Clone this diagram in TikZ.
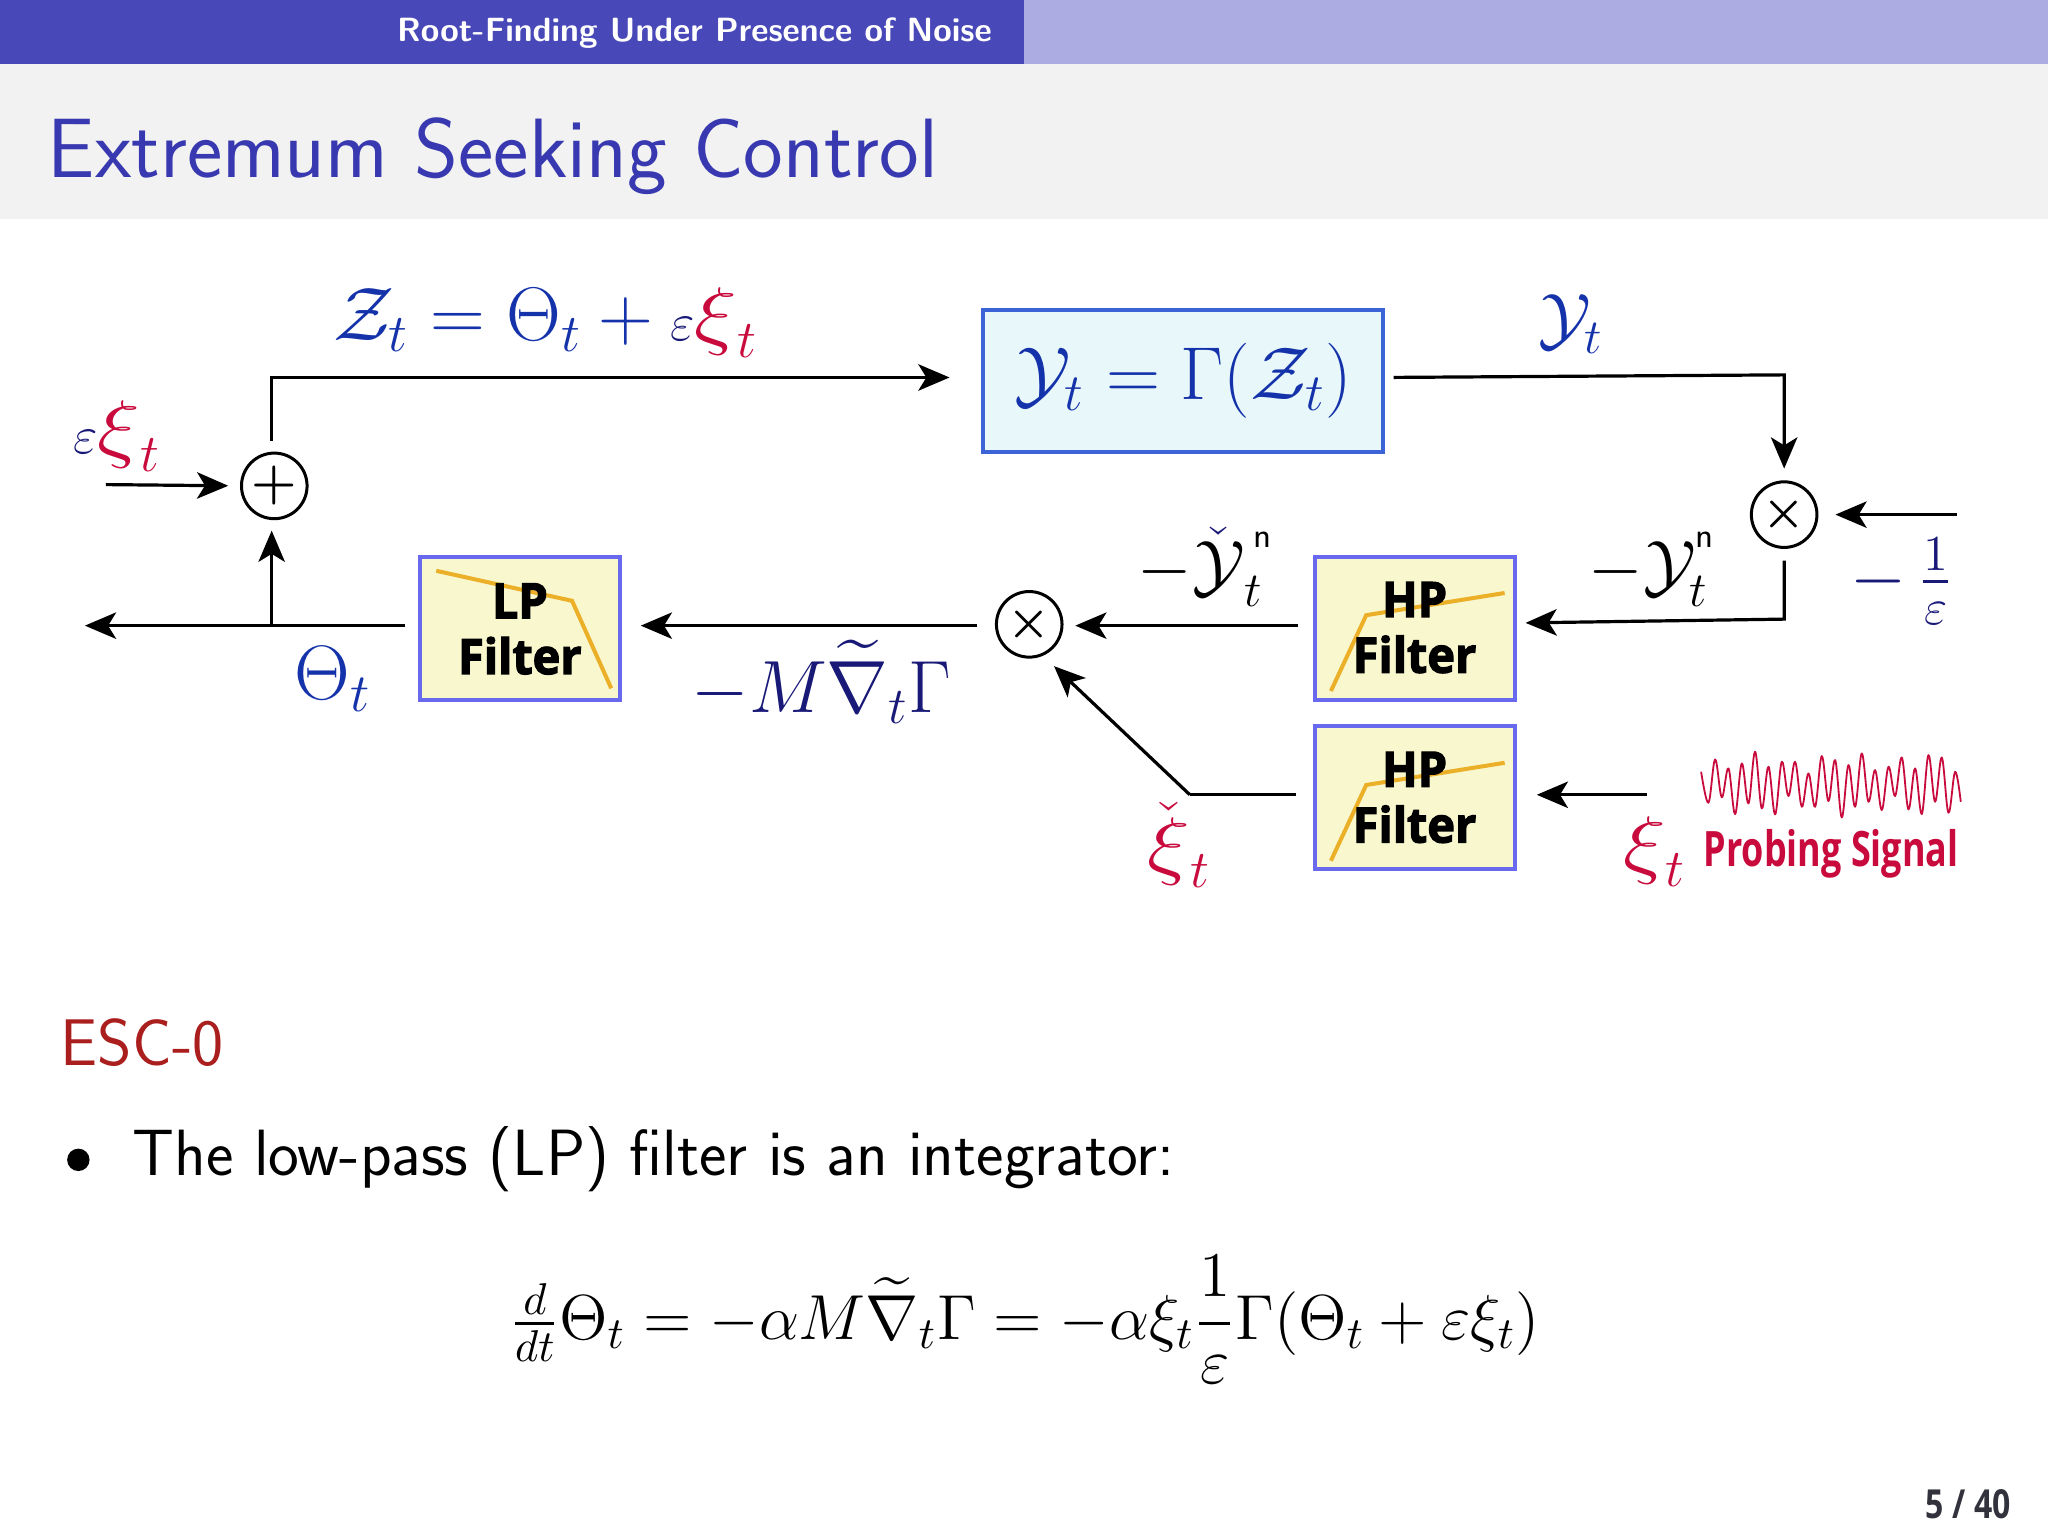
\RequirePackage{fix-cm}
\documentclass[tikz,border=0pt]{standalone}
\usepackage{amsmath,amssymb}
\usepackage[no-math]{fontspec}
\newfontfamily\heavyfontbase[FakeStretch=0.96,FakeBold=2.5]{Open Sans}
\newfontfamily\probefontbase[FakeStretch=0.737]{Open Sans}
\newfontfamily\pagefontbase[FakeStretch=0.8]{Open Sans}
\newcommand{\heavyfont}{\heavyfontbase\bfseries}
\newcommand{\probefont}{\probefontbase\bfseries}
\usetikzlibrary{arrows.meta,calc}
\definecolor{barDark}{RGB}{72,72,184}
\definecolor{barLight}{RGB}{172,172,226}
\definecolor{titleBand}{RGB}{242,242,242}
\definecolor{titleBlue}{RGB}{56,56,176}
\definecolor{sysFill}{RGB}{232,247,250}
\definecolor{sysEdge}{RGB}{60,100,215}
\definecolor{filtFill}{RGB}{248,247,205}
\definecolor{filtEdge}{RGB}{105,105,240}
\definecolor{orangeCurve}{RGB}{235,175,40}
\definecolor{mathBlue}{RGB}{20,50,170}
\definecolor{navy}{RGB}{25,25,120}
\definecolor{probeRed}{RGB}{200,10,60}
\definecolor{escRed}{RGB}{170,30,30}
\definecolor{pageGrey}{RGB}{50,50,60}
\newcommand{\fsz}[1]{\fontsize{#1}{#1}\selectfont}
\newcommand{\smalleps}{{\scriptstyle\textcolor{navy}{\varepsilon}}}
\newcommand{\bigxi}{\scalebox{1.18}[1.0]{$\xi$}}
\newcommand{\supn}{\raisebox{4pt}{\fsz{8.5}\sffamily n}}
\tikzset{
  x=0.32653pt,y=-0.32653pt,
  conn/.style={line width=0.8pt,line join=miter,-{Stealth[length=7.8pt,width=6.6pt,inset=2pt]}},
  plainline/.style={line width=0.8pt},
  sa/.style={shorten <=#1*0.32653pt},
  sb/.style={shorten >=#1*0.32653pt},
  junction/.style={circle,draw=black,line width=0.75pt,minimum size=16.4pt,inner sep=0pt,font=\fsz{13}},
  filterbox/.style={draw=filtEdge,fill=filtFill,line width=1pt,minimum width=50pt,minimum height=35.7pt,inner sep=0pt},
  filtertext/.style={font=\heavyfont\fsz{12.2},align=center,text=black,inner sep=0pt},
  curve/.style={draw=orangeCurve,line width=1pt},
  lbl/.style={inner sep=0pt,font=\fsz{17.5}},
}
\begin{document}
\begin{tikzpicture}
\useasboundingbox (0,0) rectangle (1568,1176);
\fill[white] (0,0) rectangle (1568,1176);
\fill[barDark] (0,0) rectangle (784,49);
\fill[barLight] (784,0) rectangle (1568,49);
\fill[titleBand] (0,49) rectangle (1568,168);
\node[anchor=east,inner sep=0pt,text=white,font=\sffamily\bfseries\fsz{8.4}] (hdr) at (760,25) {Root-Finding Under Presence of Noise};
\node[anchor=base west,inner sep=0pt,text=titleBlue,font=\sffamily\fsz{21.05}] (ttl) at (36,136) {Extremum Seeking Control};

% blocks
\node[draw=sysEdge,fill=sysFill,line width=1pt,minimum width=100pt,minimum height=35.6pt,inner sep=0pt,text=mathBlue,font=\fsz{18.75}] (sys) at (906,291.5)
  {$\mathcal{Y}_t=\Gamma(\mathcal{Z}_t)$};
\node[junction] (plus) at (210,372) {$\boldsymbol{+}$};
\node[junction,font=\fsz{12}] (mulA) at (788,478) {$\boldsymbol{\times}$};
\node[junction,font=\fsz{12}] (mulB) at (1366,394) {$\boldsymbol{\times}$};
\node[filterbox] (lp) at (398.5,481) {};
\node[filterbox] (hpA) at (1083.5,481) {};
\node[filterbox] (hpB) at (1083.5,610.5) {};
\draw[curve] (334,437) -- (438,460) -- (468,527);
\draw[curve] (1019,529) -- (1046,471) -- (1152,454);
\draw[curve] (1019,659) -- (1046,601) -- (1152,584);
\node[filtertext] (lpa) at (398,460) {LP};
\node[filtertext] (lpb) at (398,502) {Filter};
\node[filtertext] (hpaa) at (1083,459) {HP};
\node[filtertext] (hpab) at (1083,501) {Filter};
\node[filtertext] (hpba) at (1083,589) {HP};
\node[filtertext] (hpbb) at (1083,631) {Filter};

% free ends and corners
\coordinate (sysin) at (753,289);
\coordinate (sysout) at (1059,289);
\coordinate (epsin) at (81,371);
\coordinate (outleft) at (65,479);
\coordinate (tap) at (208,479);
\coordinate (oneover) at (1498,394);
\coordinate (probe) at (1261,608.5);
\coordinate (kink) at (911,608.5);
\coordinate (cornerA) at (1366,287);
\coordinate (cornerB) at (1366,474);
\coordinate (hpin) at (1160,477);
\coordinate (mulin) at ($(mulA)+(19,32)$);

% connectors
\draw[conn,sa=8,sb=26] (plus.north -| tap) -- (sysin -| tap) -- (sysin);
\draw[conn,sb=9] (epsin) -- (plus.west);
\draw[conn,sb=8] (tap) -- (plus.south -| tap);
\draw[conn,sa=10] (lp.west |- tap) -- (outleft);
\draw[conn,sa=14,sb=14] (mulA.west |- tap) -- (lp.east |- tap);
\draw[conn,sa=12,sb=9] (hpA.west |- tap) -- (mulA.east |- tap);
\draw[conn,sa=8] (sysout) -- (cornerA) -- ($(mulB.north)+(0,-9)$);
\draw[conn,sa=9,sb=8] (mulB.south) -- (cornerB) -- (hpin);
\draw[conn,sb=13] (oneover) -- (mulB.east);
\draw[conn,sb=15] (probe) -- (hpB.east |- probe);
\draw[plainline,sa=13] (hpB.west |- kink) -- (kink);
\draw[conn] (kink) -- (mulin);

% labels
\node[lbl,text=mathBlue,font=\fsz{19}] (zlbl) at (418,247) {$\mathcal{Z}_t=\Theta_t+\smalleps\textcolor{probeRed}{\bigxi_t}$};
\node[lbl,text=mathBlue] (ylbl) at (1203,248) {$\mathcal{Y}_t$};
\node[lbl,font=\fsz{19}] (elbl) at (90,334) {$\smalleps\textcolor{probeRed}{\bigxi_t}$};
\node[lbl,text=mathBlue,font=\fsz{19.3}] (thlbl) at (255,520) {$\Theta_t$};
\node[lbl,text=navy,font=\fsz{18.5}] (gradlbl) at (629,522) {$-M\widetilde{\nabla}_t\Gamma$};
\node[lbl] (ychk) at (923,434) {$-{\color{navy}\check{\color{black}\mathcal{Y}}}_t^{\,\supn}$};
\node[lbl] (ylb2) at (1265,436) {$-\mathcal{Y}_t^{\supn}$};
\node[lbl,text=navy,font=\fsz{18}] (frac) at (1456,445) {$-\,\frac{1}{\varepsilon}$};
\node[lbl,text=probeRed,font=\fsz{19}] (xichk) at (903,647) {$\check{\bigxi}_t$};
\node[lbl,text=probeRed,font=\fsz{19}] (xilbl) at (1267,652) {$\bigxi_t$};
\node[inner sep=0pt,text=probeRed,font=\probefont\fsz{12.2}] (probelbl) at (1402,654) {Probing Signal};

% probing signal
\begin{scope}[shift={(1225.1,551.3)},x=0.08333pt,y=-0.08333pt]
\draw[draw=probeRed,line width=0.45pt,line join=round]
 plot[smooth,tension=0.6] coordinates {(303,155) (325,248) (345,118) (365,232) (385,145) (405,282) (425,130) (445,250) (465,95) (485,265) (505,140) (525,283) (545,125) (565,228) (585,125) (605,260) (625,160) (645,260) (665,108) (685,243) (705,120) (725,292) (745,135) (765,260) (785,100) (805,245) (825,150) (845,270) (865,140) (885,228) (905,112) (925,268) (945,145) (965,282) (985,105) (1005,245) (1025,112) (1045,278) (1065,155) (1082,245)};
\end{scope}

% body
\node[anchor=base west,inner sep=0pt,text=escRed,font=\sffamily\fsz{16.5}] (esc) at (46,816) {ESC-0};
\node[circle,fill=black,inner sep=0pt,minimum size=5.6pt] (bul) at (60,888) {};
\node[anchor=base west,inner sep=0pt,font=\sffamily\fsz{16.35}] (body) at (101,900) {The low-pass (LP) filter is an integrator:};
\node[inner sep=0pt,font=\fsz{15.9}] (eq) at (785,1010)
 {$\tfrac{d}{dt}\Theta_t=-\alpha M\widetilde{\nabla}_t\Gamma=-\alpha\xi_t\dfrac{1}{\varepsilon}\Gamma(\Theta_t+\varepsilon\xi_t)$};
\node[anchor=east,inner sep=0pt,text=pageGrey,font=\pagefontbase\bfseries\fsz{10}] (pg) at (1540,1152) {5 / 40};
\end{tikzpicture}
\end{document}
